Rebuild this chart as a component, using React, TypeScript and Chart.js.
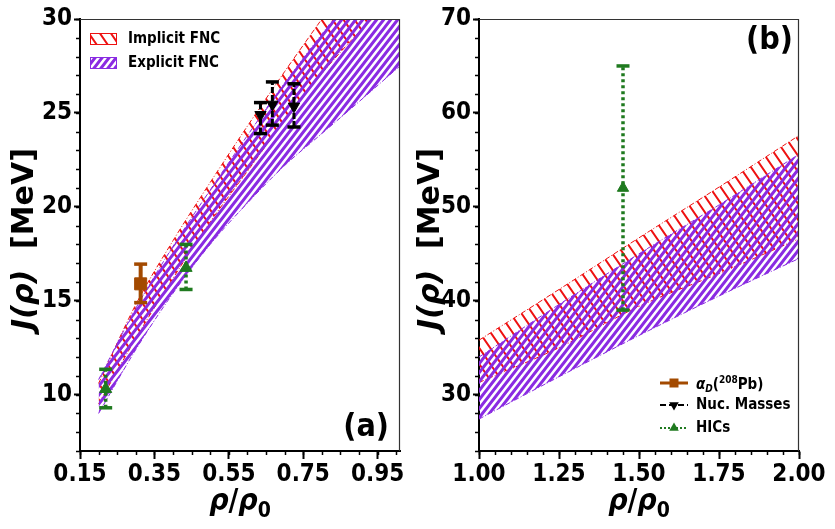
import React, { useEffect, useRef } from 'react';
import { Chart, registerables } from 'chart.js';

Chart.register(...registerables);

const FAM = '"DejaVu Sans Condensed", "DejaVu Sans", sans-serif';
const FAM_WIDE = '"DejaVu Sans", sans-serif';
const PURPLE = '#8a2be2';
const RED = '#ee1111';
const BROWN = '#a34a00';
const GREEN = '#1f7a1f';
const BLACK = '#000000';

// ---------- Panel (a) ----------
const rhoA = [0.2, 0.3, 0.4, 0.5, 0.6, 0.7, 0.8, 0.9, 1.01];
const implicitUpperA = [10.6, 14.8, 18.2, 21.3, 24.3, 27.2, 30.0, 32.8, 36.0];
const implicitLowerA = [9.5, 13.0, 16.2, 19.2, 21.9, 24.6, 27.1, 29.3, 31.4];
const explicitUpperA = [10.8, 14.6, 17.9, 20.9, 23.8, 26.6, 29.2, 31.7, 34.2];
const explicitLowerA = [9.0, 12.4, 15.4, 18.0, 20.2, 22.2, 23.9, 25.6, 27.5];

const alphaDRho = [0.313];
const alphaDJ = [15.9];
const alphaDLo = [14.9];
const alphaDHi = [16.95];

const nucRho = [0.635, 0.667, 0.725];
const nucJ = [24.9, 25.45, 25.35];
const nucLo = [23.9, 24.35, 24.25];
const nucHi = [25.55, 26.65, 26.55];

const hicRhoA = [0.219, 0.435];
const hicJA = [10.3, 16.75];
const hicLoA = [9.3, 15.6];
const hicHiA = [11.35, 18.0];

const xTicksA = [0.15, 0.35, 0.55, 0.75, 0.95];
const yTicksA = [10, 15, 20, 25, 30];

// ---------- Panel (b) ----------
const rhoB = [1.0, 1.25, 1.5, 1.75, 2.0];
const implicitUpperB = [35.8, 41.2, 46.7, 52.1, 57.6];
const implicitLowerB = [31.3, 35.0, 39.4, 42.9, 46.6];
const explicitUpperB = [34.0, 39.6, 45.0, 50.2, 55.6];
const explicitLowerB = [27.4, 31.9, 36.3, 40.5, 44.5];

const hicRhoB = [1.45];
const hicJB = [52.0];
const hicLoB = [39.0];
const hicHiB = [65.0];

const xTicksB = [1.0, 1.25, 1.5, 1.75, 2.0];
const yTicksB = [30, 40, 50, 60, 70];

type Pt = { x: number; y: number | null };

function pts(xs: number[], ys: number[]): Pt[] {
  return xs.map((x, i) => ({ x, y: ys[i] }));
}
function errPts(xs: number[], lo: number[], hi: number[]): Pt[] {
  const out: Pt[] = [];
  xs.forEach((x, i) => {
    out.push({ x, y: lo[i] }, { x, y: hi[i] }, { x, y: null });
  });
  return out;
}

function hatch(color: string, w: number, h: number, lw: number, dir: '/' | '\\'): CanvasPattern {
  const c = document.createElement('canvas');
  c.width = w;
  c.height = h;
  const g = c.getContext('2d')!;
  g.strokeStyle = color;
  g.lineWidth = lw;
  g.beginPath();
  for (let k = -2; k <= 2; k++) {
    if (dir === '/') {
      g.moveTo(k * w - w, 2 * h);
      g.lineTo(k * w + 2 * w, -h);
    } else {
      g.moveTo(k * w - w, -h);
      g.lineTo(k * w + 2 * w, 2 * h);
    }
  }
  g.stroke();
  return g.createPattern(c, 'repeat')!;
}

function band(label: string, xs: number[], up: number[], lo: number[], color: string, pat: CanvasPattern, order: number) {
  return [
    {
      type: 'line',
      label,
      data: pts(xs, up),
      borderColor: color,
      borderWidth: 1,
      borderDash: [5, 2, 1, 2],
      pointRadius: 0,
      fill: '+1',
      backgroundColor: pat,
      cubicInterpolationMode: 'monotone',
      order,
    },
    {
      type: 'line',
      label: label + ' lower',
      data: pts(xs, lo),
      borderColor: color,
      borderWidth: 1,
      borderDash: [5, 2, 1, 2],
      pointRadius: 0,
      fill: false,
      cubicInterpolationMode: 'monotone',
      order,
    },
  ];
}

function errorSeries(
  label: string,
  xs: number[],
  ys: number[],
  lo: number[],
  hi: number[],
  color: string,
  marker: string,
  rot: number,
  radius: number,
  dash: number[],
  lw: number
) {
  return [
    {
      type: 'line',
      label,
      data: pts(xs, ys),
      showLine: false,
      pointStyle: marker,
      pointRotation: rot,
      pointRadius: radius,
      pointBackgroundColor: color,
      pointBorderColor: color,
      pointBorderWidth: 1,
      order: 0,
    },
    {
      type: 'line',
      label: label + ' error',
      data: errPts(xs, lo, hi),
      borderColor: color,
      borderWidth: lw,
      borderDash: dash,
      spanGaps: false,
      fill: false,
      pointStyle: 'line',
      pointRadius: 6.5,
      pointBorderWidth: 3.5,
      pointBorderColor: color,
      pointBackgroundColor: color,
      order: 0,
    },
  ];
}

function range(a: number, b: number, step: number): number[] {
  const n = Math.round((b - a) / step);
  const out: number[] = [];
  for (let i = 0; i <= n; i++) out.push(+(a + i * step).toFixed(4));
  return out;
}

function axisX(min: number, max: number, ticks: number[]) {
  return {
    type: 'linear',
    position: 'bottom',
    min,
    max,
    afterBuildTicks: (s: any) => {
      s.ticks = ticks.map((v) => ({ value: v }));
    },
    afterFit: (s: any) => {
      s.height = 78;
    },
    ticks: {
      autoSkip: false,
      maxRotation: 0,
      color: BLACK,
      padding: 1,
      font: { family: FAM, size: 24, weight: 'bold' },
      callback: (v: any) => Number(v).toFixed(2),
    },
    grid: { drawOnChartArea: false, drawTicks: true, tickLength: 8, tickWidth: 2, tickColor: BLACK },
    border: { display: true, color: BLACK, width: 2 },
    title: { display: false },
  };
}

function axisY(min: number, max: number, ticks: number[], width: number) {
  return {
    type: 'linear',
    position: 'left',
    min,
    max,
    afterBuildTicks: (s: any) => {
      s.ticks = ticks.map((v) => ({ value: v }));
    },
    afterFit: (s: any) => {
      s.width = width;
    },
    ticks: {
      autoSkip: false,
      color: BLACK,
      padding: 2,
      font: { family: FAM, size: 24, weight: 'bold' },
      callback: (v: any) => String(v),
    },
    grid: { drawOnChartArea: false, drawTicks: true, tickLength: 6, tickWidth: 2, tickColor: BLACK },
    border: { display: true, color: BLACK, width: 2 },
    title: { display: false },
  };
}

function drawHatchBox(ctx: CanvasRenderingContext2D, x: number, y: number, w: number, h: number, color: string, pat: CanvasPattern) {
  ctx.save();
  ctx.fillStyle = pat;
  ctx.fillRect(x, y, w, h);
  ctx.strokeStyle = color;
  ctx.lineWidth = 1;
  ctx.strokeRect(x + 0.5, y + 0.5, w - 1, h - 1);
  ctx.restore();
}

function drawMarker(ctx: CanvasRenderingContext2D, kind: string, x: number, y: number, r: number, color: string) {
  ctx.save();
  ctx.fillStyle = color;
  ctx.beginPath();
  if (kind === 'rect') {
    ctx.rect(x - r, y - r, 2 * r, 2 * r);
  } else if (kind === 'up') {
    ctx.moveTo(x, y - r);
    ctx.lineTo(x + r * 0.87, y + r * 0.5);
    ctx.lineTo(x - r * 0.87, y + r * 0.5);
    ctx.closePath();
  } else {
    ctx.moveTo(x, y + r);
    ctx.lineTo(x + r * 0.87, y - r * 0.5);
    ctx.lineTo(x - r * 0.87, y - r * 0.5);
    ctx.closePath();
  }
  ctx.fill();
  ctx.restore();
}

type Piece = { t: string; font: string; dy: number };

function drawPieces(ctx: CanvasRenderingContext2D, pieces: Piece[], cx: number, baseY: number) {
  let total = 0;
  pieces.forEach((p) => {
    ctx.font = p.font;
    total += ctx.measureText(p.t).width;
  });
  let x = cx - total / 2;
  ctx.textAlign = 'left';
  ctx.textBaseline = 'alphabetic';
  pieces.forEach((p) => {
    ctx.font = p.font;
    ctx.fillText(p.t, x, baseY + p.dy);
    x += ctx.measureText(p.t).width;
  });
}

function makeExtras(opts: {
  minX: number[];
  minY: number[];
  label: string;
  corner: 'br' | 'tr';
  legend: 'a' | 'b';
  yTitleX: number;
  purplePat: CanvasPattern;
  redPat: CanvasPattern;
}) {
  return {
    id: 'extras',
    afterDraw(chart: any) {
      const ctx: CanvasRenderingContext2D = chart.ctx;
      const ca = chart.chartArea;
      const xs = chart.scales.x;
      const ys = chart.scales.y;
      ctx.save();
      // minor ticks
      ctx.strokeStyle = BLACK;
      ctx.lineWidth = 1.5;
      ctx.beginPath();
      opts.minX.forEach((v) => {
        const p = Math.round(xs.getPixelForValue(v)) + 0.5;
        ctx.moveTo(p, ca.bottom);
        ctx.lineTo(p, ca.bottom + 4);
      });
      opts.minY.forEach((v) => {
        const p = Math.round(ys.getPixelForValue(v)) + 0.5;
        ctx.moveTo(ca.left - 4, p);
        ctx.lineTo(ca.left, p);
      });
      ctx.stroke();
      // top / right spines
      ctx.strokeStyle = '#333333';
      ctx.lineWidth = 1.2;
      ctx.beginPath();
      ctx.moveTo(ca.left, ca.top + 0.5);
      ctx.lineTo(ca.right, ca.top + 0.5);
      ctx.moveTo(ca.right - 0.5, ca.top);
      ctx.lineTo(ca.right - 0.5, ca.bottom);
      ctx.stroke();

      ctx.fillStyle = BLACK;
      // x-axis title: rho/rho_0
      drawPieces(
        ctx,
        [
          { t: 'ρ', font: `italic bold 30px ${FAM}`, dy: 0 },
          { t: '/', font: `bold 30px ${FAM}`, dy: 0 },
          { t: 'ρ', font: `italic bold 30px ${FAM}`, dy: 0 },
          { t: '0', font: `bold 21px ${FAM}`, dy: 7 },
        ],
        (ca.left + ca.right) / 2,
        ca.bottom + 59
      );
      // y-axis title
      ctx.save();
      ctx.translate(opts.yTitleX, (ca.top + ca.bottom) / 2 + 4);
      ctx.rotate(-Math.PI / 2);
      drawPieces(
        ctx,
        [
          { t: 'J(ρ)', font: `italic bold 30px ${FAM_WIDE}`, dy: 0 },
          { t: '  [MeV]', font: `bold 30px ${FAM_WIDE}`, dy: 0 },
        ],
        0,
        11
      );
      ctx.restore();

      // panel label
      ctx.font = `bold 32px ${FAM}`;
      ctx.textAlign = 'right';
      ctx.textBaseline = 'middle';
      if (opts.corner === 'br') ctx.fillText(opts.label, ca.right - 11, ca.bottom - 23);
      else ctx.fillText(opts.label, ca.right - 6, ca.top + 22);

      ctx.textAlign = 'left';
      if (opts.legend === 'a') {
        const bx = ca.left + 10;
        drawHatchBox(ctx, bx, ca.top + 14, 27, 12, RED, opts.redPat);
        drawHatchBox(ctx, bx, ca.top + 38, 27, 12, PURPLE, opts.purplePat);
        ctx.fillStyle = BLACK;
        ctx.font = `bold 15px ${FAM}`;
        ctx.textBaseline = 'middle';
        ctx.fillText('Implicit FNC', bx + 38, ca.top + 20);
        ctx.fillText('Explicit FNC', bx + 38, ca.top + 44);
      } else {
        const lx0 = ca.right - 139;
        const lx1 = ca.right - 111;
        const mx = (lx0 + lx1) / 2;
        const tx = ca.right - 103;
        const rows = [ca.bottom - 68, ca.bottom - 46, ca.bottom - 23];
        // alpha_D
        ctx.strokeStyle = BROWN;
        ctx.lineWidth = 3;
        ctx.setLineDash([]);
        ctx.beginPath();
        ctx.moveTo(lx0, rows[0]);
        ctx.lineTo(lx1, rows[0]);
        ctx.stroke();
        drawMarker(ctx, 'rect', mx, rows[0], 4.5, BROWN);
        // Nuc masses
        ctx.strokeStyle = BLACK;
        ctx.lineWidth = 2;
        ctx.setLineDash([6, 3]);
        ctx.beginPath();
        ctx.moveTo(lx0, rows[1]);
        ctx.lineTo(lx1, rows[1]);
        ctx.stroke();
        drawMarker(ctx, 'down', mx, rows[1], 5.5, BLACK);
        // HICs
        ctx.strokeStyle = GREEN;
        ctx.lineWidth = 2;
        ctx.setLineDash([2, 2]);
        ctx.beginPath();
        ctx.moveTo(lx0, rows[2]);
        ctx.lineTo(lx1, rows[2]);
        ctx.stroke();
        ctx.setLineDash([]);
        drawMarker(ctx, 'up', mx, rows[2], 5.5, GREEN);

        ctx.fillStyle = BLACK;
        ctx.textBaseline = 'alphabetic';
        let x = tx;
        const base = rows[0] + 6;
        ctx.font = `italic bold 15px ${FAM}`;
        ctx.fillText('α', x, base);
        x += ctx.measureText('α').width;
        ctx.font = `italic bold 10px ${FAM}`;
        ctx.fillText('D', x, base + 3);
        x += ctx.measureText('D').width;
        ctx.font = `bold 15px ${FAM}`;
        ctx.fillText('(', x, base);
        x += ctx.measureText('(').width;
        ctx.font = `bold 10px ${FAM}`;
        ctx.fillText('208', x, base - 6);
        x += ctx.measureText('208').width;
        ctx.font = `bold 15px ${FAM}`;
        ctx.fillText('Pb)', x, base);
        ctx.textBaseline = 'middle';
        ctx.fillText('Nuc. Masses', tx, rows[1]);
        ctx.fillText('HICs', tx, rows[2]);
      }
      ctx.restore();
    },
  };
}

function buildA(canvas: HTMLCanvasElement) {
  const purplePat = hatch(PURPLE, 7, 9, 3, '/');
  const redPat = hatch(RED, 11, 16, 2, '\\');
  const datasets: any[] = [
    ...band('Explicit FNC', rhoA, explicitUpperA, explicitLowerA, PURPLE, purplePat, 1),
    ...band('Implicit FNC', rhoA, implicitUpperA, implicitLowerA, RED, redPat, 2),
    ...errorSeries('αD(208Pb)', alphaDRho, alphaDJ, alphaDLo, alphaDHi, BROWN, 'rect', 0, 8.5, [], 4),
    ...errorSeries('Nuc. Masses', nucRho, nucJ, nucLo, nucHi, BLACK, 'triangle', 180, 6.5, [6, 2], 3),
    ...errorSeries('HICs', hicRhoA, hicJA, hicLoA, hicHiA, GREEN, 'triangle', 0, 7, [3, 3], 3.5),
  ];
  return new Chart(canvas, {
    type: 'line',
    data: { datasets },
    options: {
      animation: false,
      responsive: false,
      devicePixelRatio: 1,
      layout: { padding: { top: 19, right: 10, left: 0, bottom: 0 } },
      plugins: { legend: { display: false }, tooltip: { enabled: false } },
      scales: {
        x: axisX(0.15, 1.01, xTicksA),
        y: axisY(7, 30, yTicksA, 80),
      },
    } as any,
    plugins: [
      makeExtras({
        minX: range(0.15, 1.0, 0.05),
        minY: range(7, 30, 1),
        label: '(a)',
        corner: 'br',
        legend: 'a',
        yTitleX: 22,
        purplePat,
        redPat,
      }),
    ],
  } as any);
}

function buildB(canvas: HTMLCanvasElement) {
  const purplePat = hatch(PURPLE, 7, 9, 3, '/');
  const redPat = hatch(RED, 11, 16, 2, '\\');
  const datasets: any[] = [
    ...band('Explicit FNC', rhoB, explicitUpperB, explicitLowerB, PURPLE, purplePat, 1),
    ...band('Implicit FNC', rhoB, implicitUpperB, implicitLowerB, RED, redPat, 2),
    ...errorSeries('HICs', hicRhoB, hicJB, hicLoB, hicHiB, GREEN, 'triangle', 0, 6.5, [3, 3], 3.5),
  ];
  return new Chart(canvas, {
    type: 'line',
    data: { datasets },
    options: {
      animation: false,
      responsive: false,
      devicePixelRatio: 1,
      layout: { padding: { top: 19, right: 36, left: 0, bottom: 0 } },
      plugins: { legend: { display: false }, tooltip: { enabled: false } },
      scales: {
        x: axisX(1.0, 2.0, xTicksB),
        y: axisY(24, 70, yTicksB, 74),
      },
    } as any,
    plugins: [
      makeExtras({
        minX: range(1.0, 2.0, 0.05),
        minY: range(24, 70, 2),
        label: '(b)',
        corner: 'tr',
        legend: 'b',
        yTitleX: 23,
        purplePat,
        redPat,
      }),
    ],
  } as any);
}

export default function App() {
  const refA = useRef<HTMLCanvasElement>(null);
  const refB = useRef<HTMLCanvasElement>(null);
  useEffect(() => {
    const a = buildA(refA.current!);
    const b = buildB(refB.current!);
    return () => {
      a.destroy();
      b.destroy();
    };
  }, []);
  return (
    <div style={{ position: 'absolute', left: 0, top: 0, width: 835, height: 529, background: '#fff' }}>
      <canvas ref={refA} width={410} height={529} style={{ position: 'absolute', left: 0, top: 0, width: 410, height: 529 }} />
      <canvas ref={refB} width={430} height={529} style={{ position: 'absolute', left: 405, top: 0, width: 430, height: 529 }} />
    </div>
  );
}
